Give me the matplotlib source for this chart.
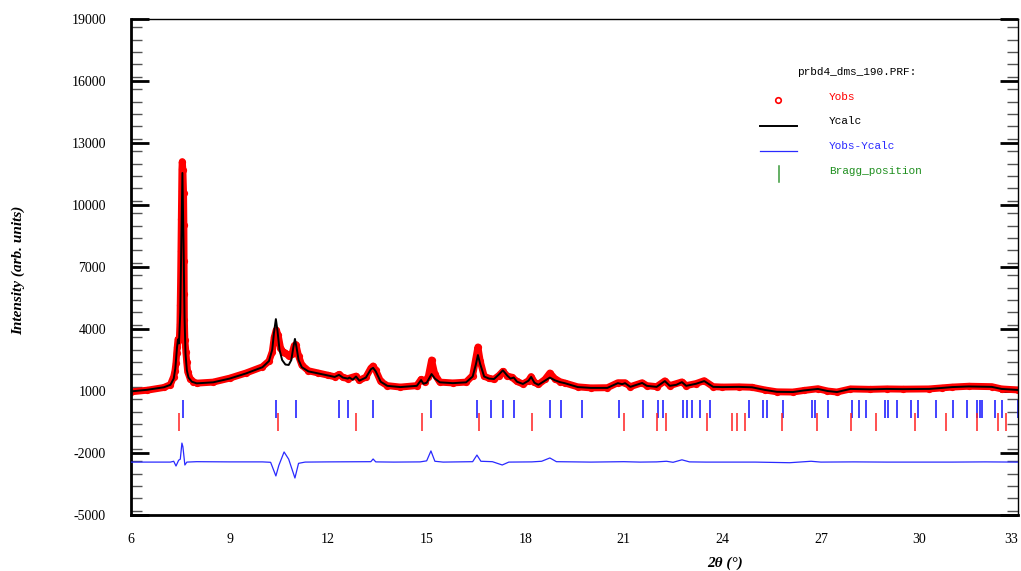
import numpy as np
import matplotlib
matplotlib.use("Agg")
import matplotlib.pyplot as plt
from matplotlib.ticker import MultipleLocator

# Ycalc profile (2theta, intensity)
calc_x = [6.0, 6.5, 7.0, 7.2, 7.3, 7.35, 7.40, 7.43, 7.46, 7.50, 7.53, 7.565, 7.60, 7.63,
          7.66, 7.70, 7.75, 7.85, 8.0, 8.5, 9.0, 9.5, 10.0, 10.2, 10.3, 10.35, 10.41,
          10.46, 10.52, 10.6, 10.7, 10.8, 10.88, 10.94, 10.99, 11.04, 11.1, 11.2, 11.4,
          11.7, 12.0, 12.2, 12.33, 12.45, 12.6, 12.65, 12.75, 12.85, 12.95, 13.15, 13.3,
          13.37, 13.45, 13.6, 13.8, 14.2, 14.7, 14.83, 14.9, 15.0, 15.15, 15.25, 15.4,
          15.8, 16.2, 16.4, 16.5, 16.56, 16.63, 16.75, 16.9, 17.05, 17.2, 17.32, 17.45,
          17.55, 17.65, 17.75, 17.93, 18.1, 18.18, 18.28, 18.4, 18.6, 18.75, 18.9, 19.06,
          19.2, 19.6, 20.0, 20.5, 20.82, 20.95, 21.04, 21.2, 21.56, 21.7, 22.0, 22.25,
          22.4, 22.6, 22.77, 22.9, 23.2, 23.45, 23.72, 24.0, 24.5, 24.9, 25.3, 25.66,
          26.15, 26.5, 26.91, 27.2, 27.49, 27.9, 28.5, 29.0, 29.5, 30.3, 30.7, 31.0,
          31.5, 32.2, 32.5, 33.0]
calc_y = [980, 1060, 1180, 1300, 1600, 2100, 3100, 3500, 3300, 4800, 8000, 11550, 8000, 4500,
          2800, 2000, 1650, 1450, 1370, 1420, 1600, 1850, 2150, 2450, 3000, 3800, 4480,
          3900, 3000, 2500, 2280, 2260, 2500, 3100, 3520, 3100, 2500, 2150, 1950,
          1850, 1750, 1680, 1780, 1650, 1600, 1650, 1550, 1700, 1500, 1650, 2050,
          2120, 1950, 1450, 1250, 1190, 1250, 1530, 1350, 1400, 1820, 1600, 1420,
          1380, 1420, 1700, 2300, 2740, 2300, 1700, 1600, 1580, 1800, 2000, 1750,
          1600, 1650, 1450, 1340, 1500, 1680, 1400, 1300, 1500, 1650, 1520, 1430,
          1380, 1190, 1150, 1150, 1380, 1330, 1380, 1200, 1390, 1250, 1200, 1480,
          1250, 1300, 1430, 1250, 1350, 1480, 1200, 1190, 1200, 1180, 1050, 960,
          950, 1030, 1100, 1000, 950, 1100, 1080, 1100, 1090, 1100, 1150, 1190,
          1220, 1200, 1100, 1050]

# Yobs points
obs_x = [6.0, 6.5, 7.0, 7.2, 7.30, 7.339, 7.370, 7.391, 7.409, 7.43, 7.47, 7.49, 7.50,
         7.51, 7.52, 7.53, 7.54, 7.55, 7.56, 7.58, 7.60, 7.61, 7.615, 7.62, 7.625,
         7.64, 7.67, 7.695, 7.725, 7.8, 7.9, 8.0, 8.5, 9.0, 9.5, 10.0, 10.2, 10.3,
         10.36, 10.42, 10.48, 10.55, 10.62, 10.7, 10.8, 10.9, 10.97, 11.02, 11.1,
         11.2, 11.4, 11.7, 12.0, 12.2, 12.33, 12.45, 12.6, 12.85, 12.95, 13.15, 13.3,
         13.37, 13.45, 13.6, 13.8, 14.2, 14.7, 14.83, 14.95, 15.05, 15.15, 15.25, 15.4,
         15.8, 16.2, 16.4, 16.5, 16.56, 16.63, 16.75, 16.9, 17.05, 17.2, 17.32, 17.45,
         17.6, 17.75, 17.93, 18.1, 18.18, 18.28, 18.4, 18.6, 18.75, 18.9, 19.06, 19.2,
         19.6, 20.0, 20.5, 20.82, 21.04, 21.2, 21.56, 21.7, 22.0, 22.25, 22.4, 22.77,
         22.9, 23.2, 23.45, 23.72, 24.0, 24.5, 24.9, 25.3, 25.66, 26.15, 26.5, 26.91,
         27.2, 27.49, 27.9, 28.5, 29.0, 29.5, 30.3, 30.7, 31.0, 31.5, 32.2, 32.5, 33.0]
obs_y = [960, 1040, 1170, 1310, 1700, 1984, 2371, 2839, 3145, 3500, 3468, 4240, 5160,
         6370, 7770, 9310, 10680, 11730, 12100, 11700, 10570, 9030, 7290, 5690, 4435,
         3470, 2890, 2420, 1930, 1600, 1450, 1380, 1430, 1620, 1870, 2170, 2450, 2900,
         3600, 3950, 3700, 3100, 2900, 2840, 2700, 2800, 3200, 3250, 2700,
         2250, 1980, 1870, 1760, 1690, 1800, 1660, 1600, 1720, 1520, 1670, 2100,
         2210, 2000, 1460, 1260, 1190, 1260, 1560, 1450, 1700, 2500, 1800, 1430,
         1390, 1430, 1750, 2600, 3130, 2450, 1720, 1610, 1570, 1750, 1950, 1730,
         1660, 1460, 1340, 1500, 1700, 1420, 1320, 1560, 1870, 1600, 1450, 1390,
         1200, 1150, 1160, 1400, 1400, 1210, 1400, 1260, 1210, 1490, 1260, 1440,
         1260, 1360, 1500, 1210, 1190, 1200, 1180, 1050, 960, 950, 1030, 1110,
         1000, 950, 1100, 1080, 1100, 1090, 1100, 1150, 1190, 1230, 1210, 1100, 1050]

# Yobs-Ycalc (shifted)
diff_x = [6.0, 7.2, 7.3, 7.37, 7.45, 7.5, 7.55, 7.58, 7.64, 7.7, 8.0, 9.0, 10.0, 10.25,
          10.41, 10.5, 10.66, 10.8, 10.99, 11.1, 11.3, 12.0, 13.3, 13.37, 13.45, 14.0,
          14.8, 15.0, 15.13, 15.25, 15.5, 16.4, 16.53, 16.65, 17.0, 17.3, 17.5, 18.2,
          18.5, 18.75, 18.95, 19.5, 20.0, 20.5, 21.0, 21.5, 22.0, 22.3, 22.5, 22.77,
          23.0, 23.5, 24.0, 25.0, 26.05, 26.7, 27.0, 28.0, 29.0, 30.0, 31.0, 32.0, 33.0]
diff_y = [-2440, -2440, -2400, -2630, -2350, -2300, -1520, -1700, -2580, -2440, -2420,
          -2430, -2430, -2450, -3110, -2600, -1950, -2300, -3210, -2500, -2440, -2430,
          -2420, -2290, -2430, -2440, -2430, -2380, -1900, -2400, -2440, -2420, -2100,
          -2400, -2420, -2580, -2440, -2430, -2400, -2240, -2420, -2430, -2440, -2430,
          -2420, -2440, -2430, -2400, -2450, -2330, -2430, -2440, -2440, -2440, -2470,
          -2400, -2440, -2430, -2440, -2440, -2440, -2430, -2440]

# Bragg reflections
bragg_blue = [7.58, 10.41, 11.02, 12.33, 12.61, 13.37, 15.13, 16.53, 16.96, 17.32, 17.66,
              18.75, 19.09, 19.73, 20.85, 21.59, 22.04, 22.19, 22.80, 22.92, 23.08, 23.32,
              23.62, 24.81, 25.24, 25.36, 25.85, 26.73, 26.82, 27.22, 27.95, 28.16, 28.37,
              28.95, 29.04, 29.32, 29.74, 29.96, 30.50, 31.02, 31.45, 31.75, 31.84, 31.90,
              32.30, 32.51, 33.0]
bragg_red = [7.45, 10.47, 12.85, 14.86, 16.59, 18.21, 21.01, 22.01, 22.29, 23.53, 24.29,
             24.45, 24.69, 25.82, 26.88, 27.92, 28.68, 29.86, 30.81, 31.75, 32.39, 32.64]

x_ticks = [6, 9, 12, 15, 18, 21, 24, 27, 30, 33]
y_ticks = [-5000, -2000, 1000, 4000, 7000, 10000, 13000, 16000, 19000]

plt.rcParams['font.family'] = ['Liberation Serif', 'DejaVu Serif']
plt.rcParams['axes.unicode_minus'] = False

fig = plt.figure(figsize=(10.21, 5.71), dpi=100)
ax = fig.add_axes([131 / 1021, 1 - 515 / 571, 887 / 1021, 496 / 571])

ax.plot(obs_x, obs_y, color='red', lw=5, solid_joinstyle='round', zorder=2)
ax.plot(obs_x, obs_y, 'o', mfc='none', mec='red', ms=4, mew=1.2, zorder=2)
ax.plot(calc_x, calc_y, color='black', lw=1.4, zorder=3)
ax.plot(diff_x, diff_y, color='#2a2aff', lw=0.9, zorder=3)
ax.vlines(bragg_blue, -300, 560, colors='#1010ff', lw=1.1)
ax.vlines(bragg_red, -950, -80, colors='#ff2020', lw=1.1)

ax.set_xlim(6, 33)
ax.set_ylim(-5000, 19000)
ax.set_xticks(x_ticks)
ax.set_yticks(y_ticks)
ax.yaxis.set_minor_locator(MultipleLocator(600))
ax.tick_params(axis='x', length=0, pad=13, labelsize=10)
ax.tick_params(axis='y', which='major', direction='in', length=13, width=2,
               right=True, pad=18, labelsize=10)
ax.tick_params(axis='y', which='minor', direction='in', length=8, width=1,
               color='#555555', right=True)
for side in ['left', 'bottom']:
    ax.spines[side].set_linewidth(2)
for side in ['top', 'right']:
    ax.spines[side].set_linewidth(1)

# keep the last x label inside the figure
ax.get_xticklabels()[-1].set_horizontalalignment('right')

fig.text(18 / 1021, 1 - 270 / 571, 'Intensity (arb. units)', rotation=90,
         ha='center', va='center', fontsize=11, fontweight='bold', fontstyle='italic')
fig.text(725 / 1021, 1 - 563 / 571, '2θ (°)', ha='center', va='center',
         fontsize=11, fontweight='bold', fontstyle='italic')

# legend block
mono = 'Liberation Mono'
tr = ax.transAxes
ax.text(0.751, 0.893, 'prbd4_dms_190.PRF:', transform=tr, family=mono, fontsize=8,
        va='center', color='black')
ax.plot([0.7294], [0.8367], 'o', mfc='none', mec='red', ms=4, mew=1.2, transform=tr)
ax.text(0.787, 0.8427, 'Yobs', transform=tr, family=mono, fontsize=8, va='center', color='red')
ax.plot([0.709, 0.751], [0.7843, 0.7843], color='black', lw=1.4, transform=tr)
ax.text(0.787, 0.7944, 'Ycalc', transform=tr, family=mono, fontsize=8, va='center', color='black')
ax.plot([0.709, 0.751], [0.7339, 0.7339], color='#2a2aff', lw=0.9, transform=tr)
ax.text(0.787, 0.744, 'Yobs-Ycalc', transform=tr, family=mono, fontsize=8, va='center',
        color='#2a2aff')
ax.plot([0.7306, 0.7306], [0.6714, 0.7036], color='#3a9a3a', lw=1.1, transform=tr)
ax.text(0.787, 0.6935, 'Bragg_position', transform=tr, family=mono, fontsize=8, va='center',
        color='#1f8f1f')

fig.savefig('out.png', dpi=100)
